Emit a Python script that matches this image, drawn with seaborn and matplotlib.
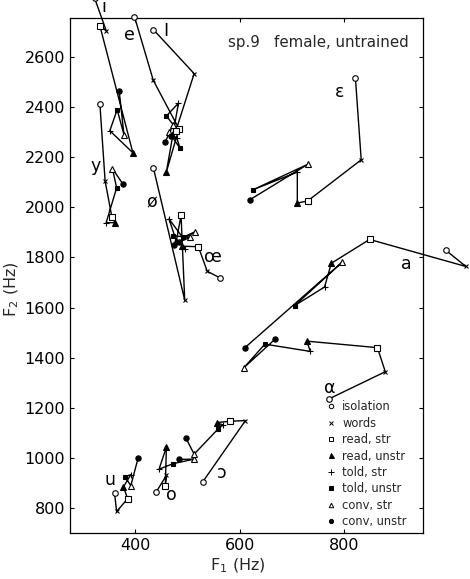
import matplotlib
matplotlib.use("Agg")
import matplotlib.pyplot as plt
import seaborn as sns
from matplotlib.lines import Line2D

# Speaking conditions, in the order each vowel's trajectory is connected
conditions = ["isolation", "words", "read, str", "read, unstr",
              "told, str", "told, unstr", "conv, str", "conv, unstr"]

# F1 / F2 (Hz) per vowel, one value per condition (order as above)
i_f1 = [323, 345, 333, 396, 352, 366, 379, 370]
i_f2 = [2835, 2706, 2725, 2218, 2306, 2390, 2290, 2463]
e_f1 = [399, 435, 484, 460, 483, 460, 473, 458]
e_f2 = [2762, 2507, 2314, 2142, 2416, 2365, 2330, 2262]
I_f1 = [435, 513, 478, 470, 480, 486, 465, 469]
I_f2 = [2710, 2534, 2305, 2290, 2277, 2236, 2300, 2284]
y_f1 = [333, 343, 356, 362, 345, 365, 357, 377]
y_f2 = [2413, 2105, 1961, 1939, 1939, 2078, 2155, 2093]
oe_slash_f1 = [435, 495, 488, 479, 465, 491, 514, 474]
oe_slash_f2 = [2159, 1630, 1968, 1866, 1954, 1880, 1902, 1850]
oe_f1 = [562, 538, 521, 490, 495, 472, 505, 485]
oe_f2 = [1719, 1745, 1843, 1845, 1835, 1887, 1880, 1862]
eps_f1 = [821, 832, 730, 710, 710, 625, 730, 619]
eps_f2 = [2515, 2190, 2026, 2017, 2141, 2070, 2172, 2030]
a_f1 = [994, 1032, 848, 775, 762, 705, 795, 610]
a_f2 = [1828, 1764, 1872, 1777, 1682, 1608, 1780, 1440]
alpha_f1 = [771, 878, 863, 728, 735, 648, 608, 667]
alpha_f2 = [1236, 1344, 1440, 1466, 1425, 1454, 1360, 1473]
u_f1 = [361, 365, 386, 378, 392, 381, 392, 406]
u_f2 = [859, 786, 837, 884, 933, 925, 889, 999]
o_f1 = [440, 460, 458, 460, 446, 473, 513, 484]
o_f2 = [862, 930, 889, 1043, 955, 977, 995, 994]
open_o_f1 = [529, 611, 581, 556, 568, 559, 513, 497]
open_o_f2 = [903, 1149, 1146, 1141, 1131, 1116, 1015, 1080]

vowels = [
    (i_f1, i_f2), (e_f1, e_f2), (I_f1, I_f2), (y_f1, y_f2),
    (oe_slash_f1, oe_slash_f2), (oe_f1, oe_f2), (eps_f1, eps_f2),
    (a_f1, a_f2), (alpha_f1, alpha_f2), (u_f1, u_f2), (o_f1, o_f2),
    (open_o_f1, open_o_f2),
]

# Vowel symbols and where they are written
label_text = ["i", "e", "I", "y", "ø", "œ", "ε", "a", "α", "u", "o", "ɔ"]
label_f1 = [340, 390, 458, 324, 432, 549, 790, 918, 771, 352, 469, 565]
label_f2 = [2798, 2688, 2703, 2167, 2020, 1800, 2460, 1772, 1280, 911, 852, 940]

# Marker style per condition: (marker, filled, size)
styles = [("o", False, 4.0), ("x", True, 3.5), ("s", False, 4.0),
          ("^", True, 4.5), ("+", True, 5.0), ("s", True, 3.5),
          ("^", False, 4.0), ("o", True, 3.8)]

sns.set_theme(style="ticks")
plt.rcParams["font.family"] = ["DejaVu Sans"]

fig = plt.figure(figsize=(4.70, 5.79), dpi=100)
ax = fig.add_axes([0.149, 0.0794, 0.751, 0.8895])

for f1, f2 in vowels:
    sns.lineplot(x=f1, y=f2, sort=False, estimator=None, color="black",
                 linewidth=1.0, ax=ax)
for ln in ax.lines:
    ln.set_clip_on(False)

for k, (mk, filled, ms) in enumerate(styles):
    xs = [f1[k] for f1, _ in vowels]
    ys = [f2[k] for _, f2 in vowels]
    ax.plot(xs, ys, linestyle="none", marker=mk, markersize=ms,
            markerfacecolor="black" if filled else "white",
            markeredgecolor="black", markeredgewidth=0.8, clip_on=False,
            zorder=3)

for t, x, y in zip(label_text, label_f1, label_f2):
    ax.text(x, y, t, fontsize=12.5, ha="center", va="center", color="black")

ax.text(578, 2659, "sp.9   female, untrained", fontsize=10.8, ha="left",
        va="center")

handles = [Line2D([], [], linestyle="none", marker=mk, markersize=ms * 0.8,
                  markerfacecolor="black" if filled else "white",
                  markeredgecolor="black", markeredgewidth=0.7)
           for mk, filled, ms in styles]
ax.legend(handles, conditions, loc="upper left", bbox_to_anchor=(0.722, 0.258),
          frameon=False, fontsize=8.3, handletextpad=0.5, labelspacing=0.3,
          handlelength=1.0, borderaxespad=0, borderpad=0)

ax.set_xlim(276, 950)
ax.set_ylim(700, 2756)
ax.set_xticks([400, 600, 800])
ax.set_yticks(list(range(800, 2601, 200)))
ax.tick_params(direction="in", top=True, right=True, length=3, width=0.8,
               labelsize=11.5, colors="black")
for s in ax.spines.values():
    s.set_linewidth(0.9)
    s.set_color("black")

ax.set_xlabel("F$_1$ (Hz)", fontsize=11.5)
ax.set_ylabel("F$_2$ (Hz)", fontsize=11.5)
ax.xaxis.set_label_coords(0.475, -0.045)
ax.yaxis.set_label_coords(-0.14, 0.474)

fig.savefig("out.png", dpi=100, facecolor="white")
